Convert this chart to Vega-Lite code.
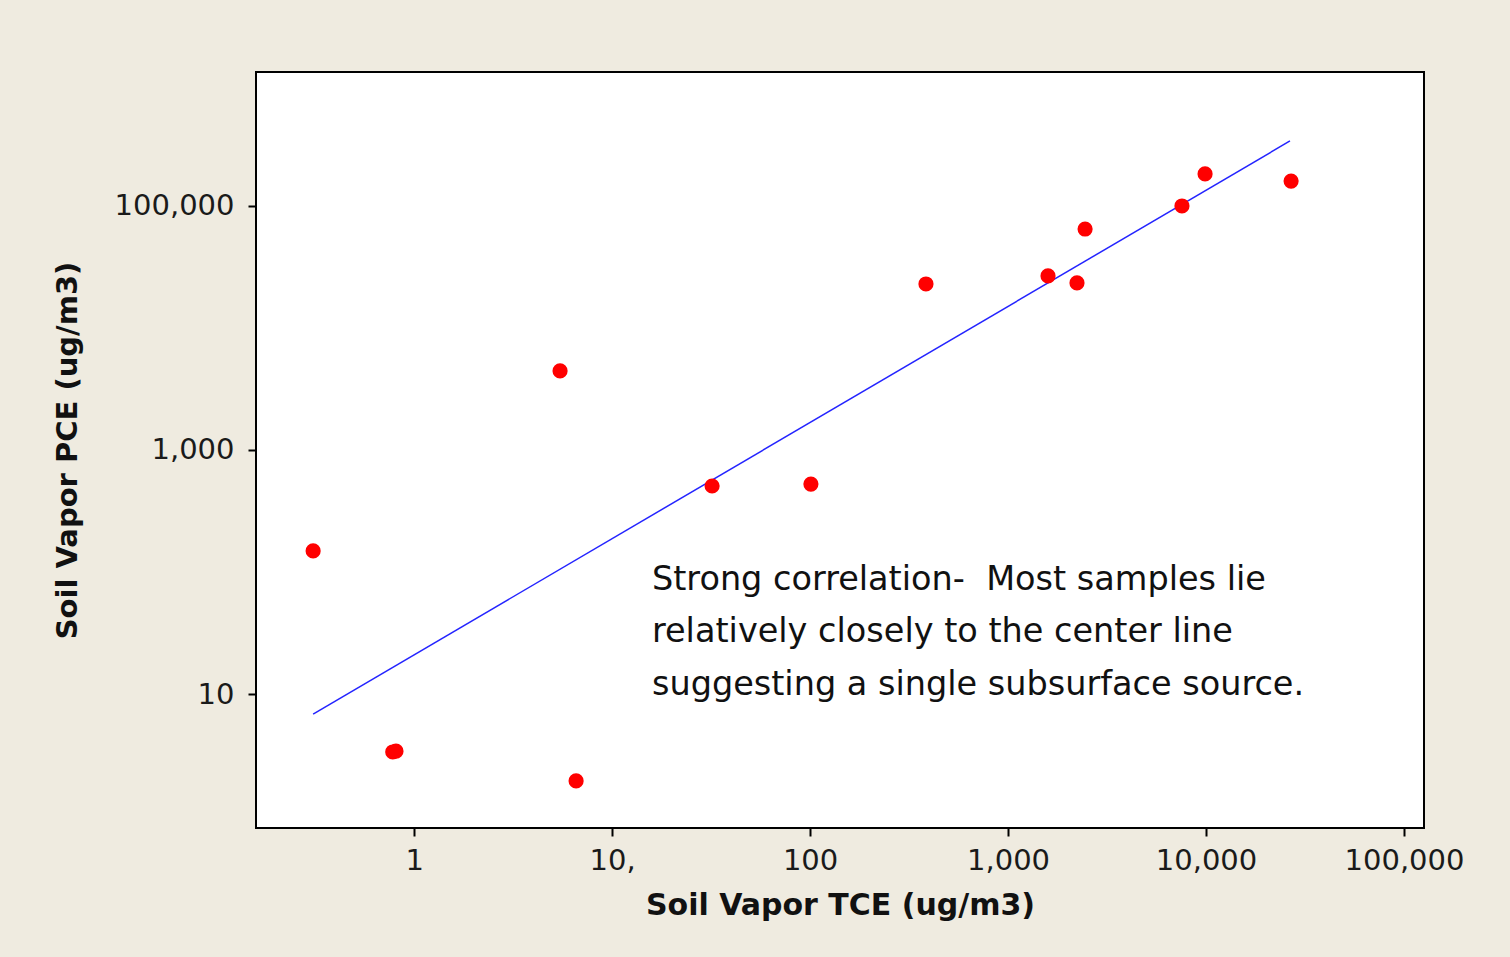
{
  "$schema": "https://vega.github.io/schema/vega-lite/v6.json",
  "autosize": {"type": "none"},
  "width": 1168,
  "height": 756,
  "padding": {"left": 256, "top": 72, "right": 86, "bottom": 129},
  "background": "#EFEBE0",
  "config": {
    "view": {"fill": "white", "stroke": "black", "strokeWidth": 2},
    "font": "DejaVu Sans"
  },
  "datasets": {
    "samples": [
      {"tce": 0.309, "pce": 149},
      {"tce": 0.78, "pce": 3.35},
      {"tce": 0.81, "pce": 3.4},
      {"tce": 5.46, "pce": 4450},
      {"tce": 6.58, "pce": 1.94},
      {"tce": 32, "pce": 507},
      {"tce": 101, "pce": 526},
      {"tce": 385, "pce": 22950},
      {"tce": 1592, "pce": 26700},
      {"tce": 2230, "pce": 23400},
      {"tce": 2450, "pce": 64700},
      {"tce": 7560, "pce": 100000},
      {"tce": 9890, "pce": 183000},
      {"tce": 26900, "pce": 160000}
    ],
    "fit": [
      {"tce": 0.309, "pce": 6.85},
      {"tce": 26550, "pce": 341000}
    ],
    "note": [
      {"tce": 15.9, "pce": 85.9, "text": "Strong correlation-\u00a0 Most samples lie"},
      {"tce": 15.9, "pce": 32.2, "text": "relatively closely to the center line"},
      {"tce": 15.9, "pce": 11.9, "text": "suggesting a single subsurface source."}
    ]
  },
  "encoding": {
    "x": {
      "field": "tce", "type": "quantitative",
      "scale": {"type": "log", "domain": [0.159, 126200], "nice": false},
      "axis": {
        "title": "Soil Vapor TCE (ug/m3)",
        "values": [1, 10, 100, 1000, 10000, 100000],
        "labelExpr": "datum.value == 10 ? '10,' : format(datum.value, ',')",
        "domain": false, "grid": false,
        "tickColor": "black", "tickSize": 8, "tickWidth": 2,
        "labelFont": "DejaVu Sans", "labelFontSize": 29, "labelColor": "#1a1a1a",
        "labelPadding": 10, "labelFlush": false, "labelOverlap": false,
        "titleFont": "DejaVu Sans", "titleFontSize": 30, "titleFontWeight": "bold",
        "titleColor": "#111", "titlePadding": 15
      }
    },
    "y": {
      "field": "pce", "type": "quantitative",
      "scale": {"type": "log", "domain": [0.798, 1253000], "nice": false},
      "axis": {
        "title": "Soil Vapor PCE (ug/m3)",
        "values": [10, 1000, 100000],
        "format": ",",
        "domain": false, "grid": false,
        "tickColor": "black", "tickSize": 8, "tickWidth": 2,
        "labelFont": "DejaVu Sans", "labelFontSize": 29, "labelColor": "#1a1a1a",
        "labelPadding": 14, "labelFlush": false, "labelOverlap": false,
        "titleFont": "DejaVu Sans", "titleFontSize": 29, "titleFontWeight": "bold",
        "titleColor": "#111", "titlePadding": 32
      }
    }
  },
  "layer": [
    {
      "data": {"name": "fit"},
      "mark": {"type": "line", "color": "#2424FF", "strokeWidth": 1.5}
    },
    {
      "data": {"name": "samples"},
      "mark": {"type": "circle", "color": "#FF0000", "opacity": 1, "size": 230}
    },
    {
      "data": {"name": "note"},
      "mark": {"type": "text", "align": "left", "baseline": "middle", "font": "DejaVu Sans", "fontSize": 33.5, "color": "#111"},
      "encoding": {"text": {"field": "text"}}
    }
  ]
}
